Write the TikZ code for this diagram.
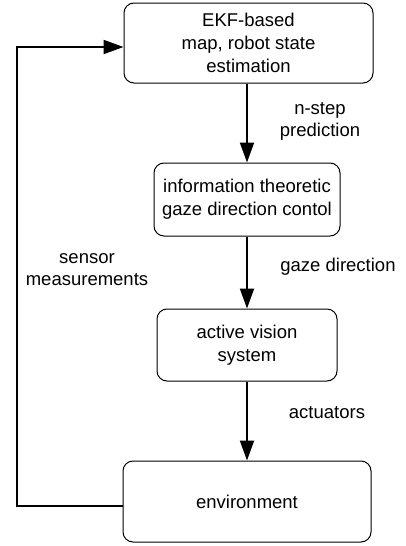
\documentclass[tikz,border=0pt]{standalone}
\usepackage{fontspec}
\setmainfont{Liberation Sans}
\usetikzlibrary{arrows.meta, positioning}

\begin{document}
\begin{tikzpicture}[x=1pt, y=1pt,
        block/.style={draw, line width=1pt, rounded corners=10pt, align=center,
            inner sep=0pt, font=\fontsize{18.5}{23}\selectfont},
        lbl/.style={align=center, inner sep=0pt, font=\fontsize{18.5}{22}\selectfont},
        flow/.style={line width=2pt, -{Triangle[length=20pt, width=14pt]}}]
                \useasboundingbox (0,0) rectangle (406,-546);
                \node[block, minimum width=249pt, minimum height=80pt] (ekf) at (248.5,-43) {EKF-based\\map, robot state\\estimation};
                \node[block, minimum width=186pt, minimum height=73pt] (info) at (247,-199.5) {information theoretic\\gaze direction contol};
                \node[block, minimum width=180pt, minimum height=72pt] (vision) at (247,-345) {active vision\\system};
                \node[block, minimum width=248pt, minimum height=81pt] (env) at (247,-501.5) {environment};
                \coordinate (loopbot) at (17,-506);
                \coordinate (looptop) at (17,-47);
                \draw[flow] (ekf.south -| info.north) -- (info.north);
                \draw[flow] (info.south) -- (vision.north);
                \draw[flow] (vision.south) -- (env.north);
                \draw[flow] (env.west |- loopbot) -- (loopbot) -- (looptop) -- (ekf.west |- looptop);
                \node[lbl] (predlbl) at (320,-121) {n-step\\prediction};
                \node[lbl] (gazelbl) at (338,-267) {gaze direction};
                \node[lbl] (actlbl) at (327,-413) {actuators};
                \node[lbl] (senslbl) at (87,-270) {sensor\\measurements};
            \end{tikzpicture}
\end{document}
